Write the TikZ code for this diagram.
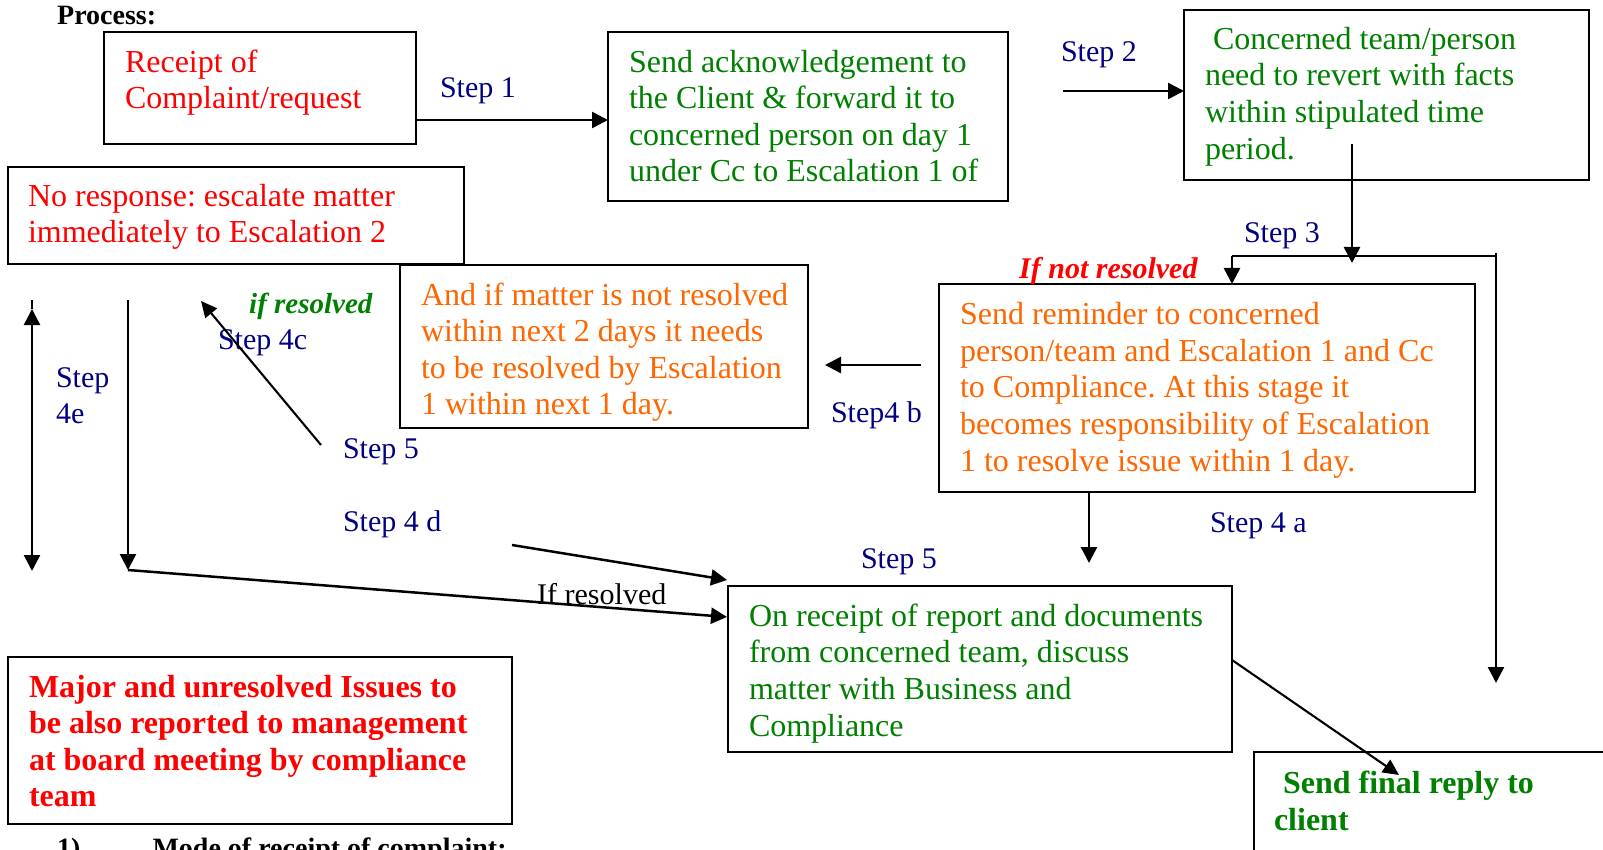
\documentclass[tikz,border=0pt]{standalone}
\usepackage{fontspec}
\setmainfont{Liberation Serif}
\usetikzlibrary{arrows.meta}
\definecolor{cred}{RGB}{255,0,0}
\definecolor{cgreen}{RGB}{0,128,0}
\definecolor{corange}{RGB}{255,102,0}
\definecolor{cnavy}{RGB}{0,0,128}
\frenchspacing
\begin{document}
\begin{tikzpicture}[x=1pt,y=-1pt,
  box/.style={draw=black, line width=2.2pt, anchor=north west, inner sep=0pt, outer sep=0pt, rectangle},
  txt/.style={anchor=north west, inner sep=0pt, outer sep=0pt, align=left, font=\fontsize{32}{36.6}\selectfont},
  steplbl/.style={anchor=base west, inner sep=0pt, outer sep=0pt, text=cnavy, font=\fontsize{30}{36}\selectfont},
  conn/.style={line width=2.5pt},
  arr/.style={line width=2.5pt, -{Triangle[length=16pt,width=16pt]}},
  thinarr/.style={line width=2.1pt, -{Triangle[length=16pt,width=15pt]}},
]
\useasboundingbox (0,0) rectangle (1603,850);
\clip (0,0) rectangle (1603,850);
\fill[white] (0,0) rectangle (1603,850);

% titles
\node[anchor=base west, inner sep=0pt, font=\fontsize{28}{32}\selectfont\bfseries] (title) at (57,25) {Process:};
\node[anchor=base west, inner sep=0pt, font=\fontsize{28}{32}\selectfont\bfseries] (mode) at (57,857) {1)\hspace{72pt}Mode of receipt of complaint:};

% boxes
\node[box, minimum width=312pt, minimum height=112pt] (A) at (104,32) {};
\node[box, minimum width=400pt, minimum height=169pt] (B) at (608,32) {};
\node[box, minimum width=405pt, minimum height=170pt] (C) at (1184,10) {};
\node[box, minimum width=456pt, minimum height=97pt] (F) at (8,167) {};
\node[box, minimum width=408pt, minimum height=163pt] (E) at (400,265) {};
\node[box, minimum width=536pt, minimum height=208pt] (D) at (939,284) {};
\node[box, minimum width=504pt, minimum height=166pt] (G) at (728,586) {};
\node[box, minimum width=400pt, minimum height=160pt] (H) at (1254,752) {};
\node[box, minimum width=504pt, minimum height=167pt] (I) at (8,657) {};

% box texts
\node[txt, text=cred] (tA) at (125,46.4) {\strut Receipt of\\Complaint/request};
\node[txt, text=cgreen] (tB) at (629,46.4) {\strut Send acknowledgement to\\the Client \& forward it to\\concerned person on day 1\\under Cc to Escalation 1 of};
\node[txt, text=cgreen] (tC) at (1205,23.6) {\strut\hspace*{8pt}Concerned team/person\\need to revert with facts\\within stipulated time\\period.};
\node[txt, text=cred] (tF) at (28,180.6) {\strut No response: escalate matter\\immediately to Escalation 2};
\node[txt, text=corange] (tE) at (421,279.4) {\strut And if matter is not resolved\\within next 2 days it needs\\to be resolved by Escalation\\1 within next 1 day.};
\node[txt, text=corange] (tD) at (960,299) {\strut Send reminder to concerned\\person/team and Escalation 1 and Cc\\to Compliance. At this stage it\\becomes responsibility of Escalation\\1 to resolve issue within 1 day.};
\node[txt, text=cgreen] (tG) at (749,600.6) {\strut On receipt of report and documents\\from concerned team, discuss\\matter with Business and\\Compliance};
\node[txt, text=cgreen, font=\fontsize{32}{37}\selectfont\bfseries] (tH) at (1274,767.6) {\strut\hspace*{9pt}Send final reply to\\client};
\node[txt, text=cred, font=\fontsize{32}{36.6}\selectfont\bfseries] (tI) at (29,671.4) {\strut Major and unresolved Issues to\\be also reported to management\\at board meeting by compliance\\team};

% step labels
\node[steplbl] (s1) at (440,98) {Step 1};
\node[steplbl] (s2) at (1061,62) {Step 2};
\node[steplbl] (s3) at (1244,243) {Step 3};
\node[steplbl] (s4b) at (831,422) {Step4 b};
\node[steplbl] (s4a) at (1210,532) {Step 4 a};
\node[steplbl] (s5r) at (861,568) {Step 5};
\node[steplbl] (s4e) at (56,387) {Step};
\node[steplbl] (s4e2) at (56,423) {4e};
\node[steplbl] (s4c) at (218,349) {Step 4c};
\node[steplbl] (s5l) at (343,458) {Step 5};
\node[steplbl] (s4d) at (343,531) {Step 4 d};
\node[anchor=base west, inner sep=0pt, text=cred, font=\fontsize{30}{36}\selectfont\bfseries\itshape] (nres) at (1019,279) {If not resolved};
\node[anchor=base west, inner sep=0pt, text=cgreen, font=\fontsize{29}{36}\selectfont\bfseries\itshape] (ires) at (249,313) {if resolved};
\node[anchor=base west, inner sep=0pt, text=black, font=\fontsize{30}{36}\selectfont] (ifres) at (537,604) {If resolved};

% coordinates for free ends
\coordinate (a2s) at (1063,91);
\coordinate (cs) at (1352,144);
\coordinate (ce) at (1352,263);
\coordinate (j1) at (1232,256);
\coordinate (j2) at (1496,256);
\coordinate (j2t) at (1496,253);
\coordinate (j2e) at (1496,683);
\coordinate (b4s) at (921,365);
\coordinate (b4e) at (825,365);
\coordinate (d4ae) at (1089,563);
\coordinate (c4s) at (321,445);
\coordinate (c4e) at (201,301);
\coordinate (e4t) at (32,300);
\coordinate (e4a) at (32,309);
\coordinate (e4b) at (32,571);
\coordinate (l2t) at (128,300);
\coordinate (l2b) at (128,570);
\coordinate (d4s) at (512,545);
\coordinate (d4e) at (727,580);
\coordinate (fe) at (727,617);
\coordinate (gs) at (1232,660);
\coordinate (he) at (1399,775);

% connectors
\draw[arr] (A.east |- 0,120) -- (B.west |- 0,120);
\draw[arr] (a2s) -- (C.west |- a2s);
\draw[arr] (cs) -- (ce);
\draw[conn] (j1) -- (j2);
\draw[arr] (j1) -- (D.north -| j1);
\draw[arr] (j2t) -- (j2e);
\draw[arr] (b4s) -- (b4e);
\draw[arr] (D.south -| d4ae) -- (d4ae);
\draw[thinarr] (c4s) -- (c4e);
\draw[conn] (e4t) -- (e4a);
\draw[line width=2.5pt, {Triangle[length=16pt,width=16pt]}-{Triangle[length=16pt,width=16pt]}] (e4a) -- (e4b);
\draw[arr] (l2t) -- (l2b);
\draw[arr] (l2b) -- (fe);
\draw[arr] (d4s) -- (d4e);
\draw[thinarr] (gs) -- (he);
\end{tikzpicture}
\end{document}
